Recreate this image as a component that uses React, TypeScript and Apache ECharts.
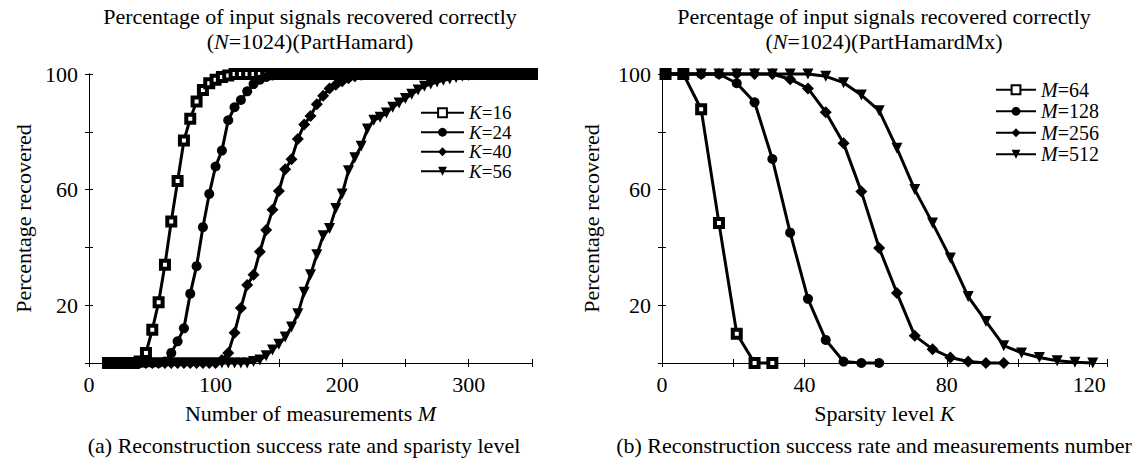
import React, { useEffect, useRef } from "react";
import * as echarts from "echarts";

// ---------- data: left panel (PartHamard), x = number of measurements M ----------
const measurementsM = [
  15, 20, 25, 30, 35, 40, 45, 50, 55, 60, 65, 70, 75, 80, 85, 90, 95, 100, 105, 110,
  115, 120, 125, 130, 135, 140, 145, 150, 155, 160, 165, 170, 175, 180, 185, 190, 195, 200, 205, 210,
  215, 220, 225, 230, 235, 240, 245, 250, 255, 260, 265, 270, 275, 280, 285, 290, 295, 300, 305, 310,
  315, 320, 325, 330, 335, 340, 345, 350,
];
const recK16 = [
  0, 0, 0, 0, 0, 0.5, 3.5, 11.5, 21, 34, 49, 63, 77, 84.5, 90.5, 94.5, 96.8, 98, 99, 99.5,
  100, 100, 100, 100, 100, 100, 100, 100, 100, 100, 100, 100, 100, 100, 100, 100, 100, 100, 100, 100,
  100, 100, 100, 100, 100, 100, 100, 100, 100, 100, 100, 100, 100, 100, 100, 100, 100, 100, 100, 100,
  100, 100, 100, 100, 100, 100, 100, 100,
];
const recK24 = [
  0, 0, 0, 0, 0, 0, 0, 0, 0, 0.5, 3.5, 7.5, 12, 24, 33.5, 47, 58.5, 68, 73.5, 84,
  88.5, 91, 94, 96.5, 98, 99, 99.5, 100, 100, 100, 100, 100, 100, 100, 100, 100, 100, 100, 100, 100,
  100, 100, 100, 100, 100, 100, 100, 100, 100, 100, 100, 100, 100, 100, 100, 100, 100, 100, 100, 100,
  100, 100, 100, 100, 100, 100, 100, 100,
];
const recK40 = [
  0, 0, 0, 0, 0, 0, 0, 0, 0, 0, 0, 0, 0, 0, 0, 0, 0, 0, 1, 3.5,
  10.5, 19, 27, 30.5, 38.5, 46, 53, 59.5, 67, 70.5, 77.5, 82.5, 85.5, 89.5, 92.5, 95, 96.3, 97.5, 98.5, 99.2,
  99.7, 100, 100, 100, 100, 100, 100, 100, 100, 100, 100, 100, 100, 100, 100, 100, 100, 100, 100, 100,
  100, 100, 100, 100, 100, 100, 100, 100,
];
const recK56 = [
  0, 0, 0, 0, 0, 0, 0, 0, 0, 0, 0, 0, 0, 0, 0, 0, 0, 0, 0, 0,
  0, 0, 0, 0.5, 1, 2.5, 4.5, 6.5, 9, 12.5, 17, 24.5, 30.5, 37.5, 44, 46.5, 53.5, 58.5, 66.5, 71,
  75, 81, 84, 85, 86.5, 88.5, 90, 91.5, 93, 94.5, 95.8, 96.5, 97.2, 97.8, 98.3, 98.8, 99.2, 99.5, 99.7, 100,
  100, 100, 100, 100, 100, 100, 100, 100,
];

// ---------- data: right panel (PartHamardMx), x = sparsity level K ----------
const sparsityK = [1, 6, 11, 16, 21, 26, 31, 36, 41, 46, 51, 56, 61, 66, 71, 76, 81, 86, 91, 96, 101, 106, 111, 116, 121];
const recM64 = [100, 100, 87.8, 48.4, 10.1, 0, 0];
const recM128 = [100, 100, 100, 100, 96.8, 90.2, 70.6, 45.1, 22.2, 8, 0.5, 0, 0];
const recM256 = [100, 100, 100, 100, 100, 100, 100, 98.2, 95, 86.8, 76, 59.3, 39.8, 24.2, 9.4, 4.8, 1.9, 0.5, 0, 0];
const recM512 = [100, 100, 100, 100, 100, 100, 100, 100, 100, 99.2, 97, 92.7, 87.3, 74.3, 60, 48.4, 36.3, 23, 14.4, 6, 3.5, 1.9, 0.8, 0.3, 0];

// ---------- tick labels ----------
const yTickLabels = [20, 60, 100];
const xTickLabelsLeft = [0, 100, 200, 300];
const xTickLabelsRight = [0, 40, 80, 120];

const FONT = "'Liberation Serif', 'Times New Roman', serif";
const FS = 22;

const italicRich = { i: { fontStyle: "italic", fontFamily: FONT, fontSize: FS, color: "#000" } };
const baseText = { fontFamily: FONT, fontSize: FS, color: "#000" };

function pairs(xs: number[], ys: number[]) {
  return ys.map((v, i) => [xs[i], v]);
}

function xAxisPair(grid: number, max: number, interval: number, labels: number[], name: string) {
  return [
    {
      type: "value",
      gridIndex: grid,
      position: "bottom",
      min: 0,
      max,
      interval,
      axisLine: { show: true, lineStyle: { color: "#000", width: 1 } },
      axisTick: { show: true, inside: true, length: 4, lineStyle: { color: "#000" } },
      axisLabel: {
        ...baseText,
        margin: 10,
        formatter: (v: number) => (labels.includes(v) ? String(v) : ""),
      },
      splitLine: { show: false },
      name,
      nameLocation: "middle",
      nameGap: 39,
      nameTextStyle: { ...baseText, rich: italicRich },
    },
    {
      type: "value",
      gridIndex: grid,
      position: "top",
      min: 0,
      max,
      interval,
      axisLine: { show: true, lineStyle: { color: "#000", width: 1 } },
      axisTick: { show: true, inside: true, length: 4, lineStyle: { color: "#000" } },
      axisLabel: { show: false },
      splitLine: { show: false },
    },
  ];
}

function yAxisPair(grid: number, gap: number) {
  return [
    {
      type: "value",
      gridIndex: grid,
      position: "left",
      min: 0,
      max: 100,
      interval: 20,
      axisLine: { show: true, lineStyle: { color: "#000", width: 1 } },
      axisTick: { show: true, inside: true, length: 4, lineStyle: { color: "#000" } },
      axisLabel: {
        ...baseText,
        margin: 11,
        formatter: (v: number) => (yTickLabels.includes(v) ? String(v) : ""),
      },
      splitLine: { show: false },
      name: "Percentage recovered",
      nameLocation: "middle",
      nameGap: gap,
      nameTextStyle: { ...baseText },
    },
    {
      type: "value",
      gridIndex: grid,
      position: "right",
      min: 0,
      max: 100,
      interval: 20,
      axisLine: { show: true, lineStyle: { color: "#000", width: 1 } },
      axisTick: { show: true, inside: true, length: 4, lineStyle: { color: "#000" } },
      axisLabel: { show: false },
      splitLine: { show: false },
    },
  ];
}

function lineSeries(name: string, data: number[][], axis: number, symbol: string, size: number, rotate = 0, hollow = false) {
  return {
    type: "line",
    name,
    xAxisIndex: axis,
    yAxisIndex: axis,
    data,
    symbol,
    symbolSize: size,
    symbolRotate: rotate,
    showSymbol: true,
    clip: false,
    lineStyle: { color: "#000", width: 3 },
    itemStyle: hollow
      ? { color: "#fff", borderColor: "#000", borderWidth: 4 }
      : { color: "#000", borderColor: "#000", borderWidth: 0 },
    emphasis: { disabled: true },
  };
}

const legendFormatter = (name: string) => name.replace(/^([KM])(.*)$/, "{i|$1}{n|$2}");

function legendText(fs: number, lh: number) {
  return {
    fontFamily: FONT,
    fontSize: fs,
    color: "#000",
    lineHeight: lh,
    rich: {
      i: { fontFamily: FONT, fontSize: fs, fontStyle: "italic", color: "#000", lineHeight: lh },
      n: { fontFamily: FONT, fontSize: fs, color: "#000", lineHeight: lh },
    },
  };
}

const titleStyle = { ...baseText, fontWeight: "normal" };

const option = {
  animation: false,
  backgroundColor: "#fff",
  title: [
    { text: "Percentage of input signals recovered correctly", left: 310, top: 5, padding: 0, textAlign: "center", textStyle: titleStyle },
    { text: "({i|N}=1024)(PartHamard)", left: 310, top: 30, padding: 0, textAlign: "center", textStyle: { ...titleStyle, rich: italicRich } },
    { text: "Percentage of input signals recovered correctly", left: 884, top: 5, padding: 0, textAlign: "center", textStyle: titleStyle },
    { text: "({i|N}=1024)(PartHamardMx)", left: 884, top: 30, padding: 0, textAlign: "center", textStyle: { ...titleStyle, rich: italicRich } },
    { text: "(a) Reconstruction success rate and sparisty level", left: 304, top: 434, padding: 0, textAlign: "center", textStyle: titleStyle },
    { text: "(b) Reconstruction success rate and measurements number", left: 874, top: 434, padding: 0, textAlign: "center", textStyle: titleStyle },
  ],
  grid: [
    { left: 89, top: 74, width: 443, height: 289, containLabel: false },
    { left: 662, top: 74, width: 445, height: 289, containLabel: false },
  ],
  xAxis: [
    ...xAxisPair(0, 350, 50, xTickLabelsLeft, "Number of measurements {i|M}"),
    ...xAxisPair(1, 125, 20, xTickLabelsRight, "Sparsity level {i|K}"),
  ],
  yAxis: [...yAxisPair(0, 55), ...yAxisPair(1, 60)],
  legend: [
    {
      orient: "vertical",
      left: 415,
      top: 98,
      itemWidth: 43,
      itemHeight: 11,
      itemGap: 0,
      data: ["K=16", "K=24", "K=40", "K=56"],
      formatter: legendFormatter,
      textStyle: legendText(19, 19.5),
      selectedMode: false,
    },
    {
      orient: "vertical",
      left: 990,
      top: 74,
      itemWidth: 40,
      itemHeight: 11,
      itemGap: 0,
      data: ["M=64", "M=128", "M=256", "M=512"],
      formatter: legendFormatter,
      textStyle: legendText(20, 21.5),
      selectedMode: false,
    },
  ],
  series: [
    lineSeries("K=16", pairs(measurementsM, recK16), 0, "rect", 8, 0, true),
    lineSeries("K=24", pairs(measurementsM, recK24), 0, "circle", 10),
    lineSeries("K=40", pairs(measurementsM, recK40), 0, "diamond", 12),
    lineSeries("K=56", pairs(measurementsM, recK56), 0, "triangle", 11, 180),
    lineSeries("M=64", pairs(sparsityK, recM64), 2, "rect", 8, 0, true),
    lineSeries("M=128", pairs(sparsityK, recM128), 2, "circle", 10),
    lineSeries("M=256", pairs(sparsityK, recM256), 2, "diamond", 12),
    lineSeries("M=512", pairs(sparsityK, recM512), 2, "triangle", 11, 180),
  ],
};

export default function App() {
  const ref = useRef<HTMLDivElement>(null);
  useEffect(() => {
    if (!ref.current) return;
    const chart = echarts.init(ref.current, null, { renderer: "svg" });
    chart.setOption(option as any);
    return () => chart.dispose();
  }, []);
  return (
    <div
      ref={ref}
      style={{ position: "fixed", left: 0, top: 0, width: 1138, height: 467, background: "#fff" }}
    />
  );
}
